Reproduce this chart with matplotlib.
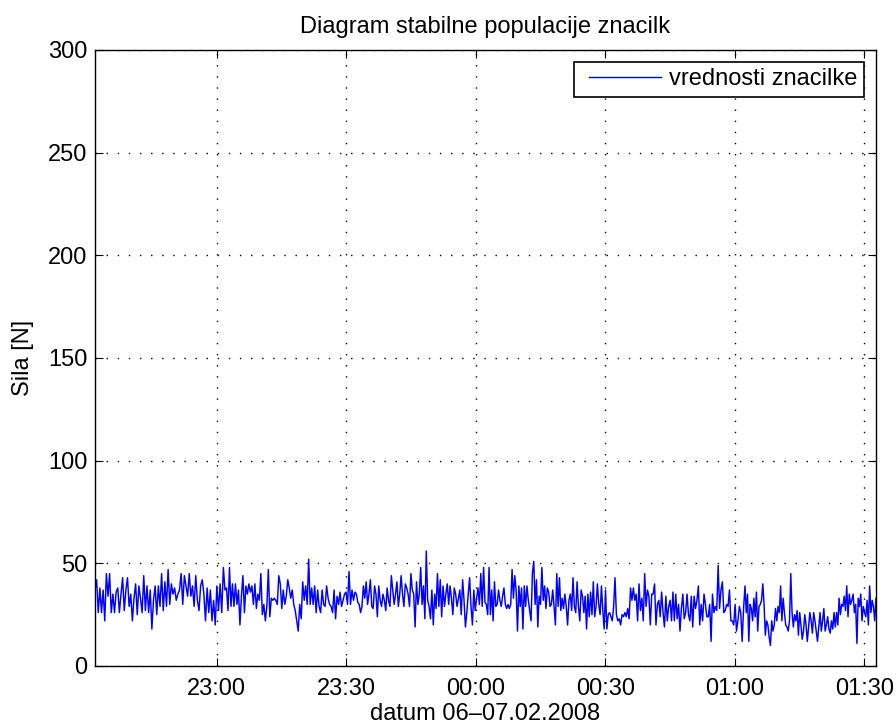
import numpy as np
import matplotlib
matplotlib.use("Agg")
import matplotlib.pyplot as plt
import matplotlib.dates as mdates
from matplotlib.lines import Line2D
from matplotlib.legend_handler import HandlerLine2D
from datetime import datetime, timedelta

plt.rcParams['font.family'] = ['Liberation Sans', 'DejaVu Sans']

title = "Diagram stabilne populacije znacilk"
xlabel = "datum 06\u201307.02.2008"
ylabel = "Sila [N]"
legend_label = "vrednosti znacilke"

seg1 = [37, 42, 26, 38, 26, 37, 22, 45, 34, 45, 26, 35, 26, 36, 38, 26, 35, 43, 27, 37,
        43, 29, 35, 22, 33, 40, 25, 39, 33, 26, 44, 27, 39, 26, 37, 18, 32, 39, 25, 39,
        29, 45, 27, 41, 29, 47, 30, 40, 35, 38, 32, 35, 37, 45, 30, 44, 39, 34, 45, 34,
        39, 29, 44, 32, 27, 39, 42, 35, 22, 38, 26, 37, 22, 32, 20, 39, 27, 40, 26, 48]
seg2 = [37, 38, 27, 48, 29, 40, 29, 40, 30, 37, 20, 34, 44, 26, 39, 35, 40, 36, 39, 30,
        40, 28, 35, 32, 45, 25, 30, 22, 29, 47, 24, 33, 32, 33, 32, 30, 44, 40, 28, 37,
        30, 34, 42, 38, 33, 37, 30, 27, 22, 17, 30, 23, 41, 32, 39, 30, 52, 30, 38, 30,
        39, 26, 37, 29, 26, 37, 30, 29, 39, 33, 30, 29, 26, 37, 23, 34, 30, 36, 29, 32,
        35, 36, 30, 46, 30, 37, 32]
seg3 = [36, 35, 31, 30, 26, 29, 39, 33, 41, 30, 35, 42, 29, 28, 39, 35, 24, 39, 32, 29,
        35, 32, 27, 38, 32, 29, 44, 37, 30, 35, 41, 29, 35, 44, 35, 29, 40, 38, 35, 29,
        45, 37, 35, 19, 41, 30, 35, 48, 30, 39, 23, 56, 32, 29, 23, 37, 20, 35, 28, 45,
        29, 42, 24, 39, 29, 35, 40, 30, 39, 33, 25, 38, 35, 29, 33, 37, 25, 42, 32, 19,
        26, 35, 43, 29, 20, 37, 27, 33, 38, 30, 45, 29, 48]
seg4 = [31, 30, 25, 48, 25, 37, 22, 41, 29, 30, 37, 32, 29, 34, 38, 30, 28, 30, 28, 30,
        47, 33, 44, 37, 17, 39, 29, 38, 18, 39, 29, 39, 32, 27, 22, 45, 51, 30, 42, 19,
        34, 30, 48, 32, 39, 28, 38, 36, 29, 30, 37, 29, 20, 45, 29, 43, 27, 33, 28, 35,
        29, 20, 32, 35, 27, 43, 29, 26, 41, 29, 22, 37, 34, 26, 34, 18, 35, 24, 36, 25,
        41, 24, 29, 40, 30, 25, 39, 27, 18, 37, 18, 25, 26, 24, 22, 29]
seg5 = [43, 25, 22, 23, 20, 25, 24, 26, 24, 28, 23, 38, 32, 38, 32, 35, 22, 40, 27, 33,
        22, 45, 29, 37, 34, 20, 35, 35, 40, 20, 30, 32, 24, 36, 26, 19, 34, 22, 29, 32,
        22, 36, 22, 35, 23, 30, 17, 28, 35, 23, 26, 35, 25, 22, 34, 19, 34, 28, 32, 39,
        20, 30, 22, 35, 30, 24, 24, 30, 12, 35, 26, 29, 27, 49, 28, 37, 41, 26, 27, 30,
        29, 37, 22, 22, 20, 30, 17, 22, 29, 26, 12, 28]
seg6 = [39, 26, 35, 12, 30, 28, 22, 33, 24, 36, 17, 29, 30, 32, 40, 30, 15, 22, 20, 14,
        10, 22, 17, 20, 28, 22, 29, 26, 39, 22, 33, 26, 20, 19, 17, 22, 45, 26, 19, 25,
        22, 27, 15, 26, 20, 13, 17, 25, 20, 12, 19, 26, 22, 16, 26, 22, 17, 12, 19, 26,
        17, 22, 28, 17, 20, 24, 18, 16, 22, 18, 26, 19, 26, 20, 33, 25, 30, 29, 34, 27,
        39, 24, 35, 30, 32, 35, 26, 30, 11, 33, 29, 35, 22, 29, 26, 24, 32, 20, 39, 26,
        32, 29, 22, 33]
segments = [seg1, seg2, seg3, seg4, seg5, seg6]

# time at which each transcribed segment begins, and the end of the record
seg_starts = [datetime(2008, 2, 6, 22, 31, 49), datetime(2008, 2, 6, 23, 1, 56),
              datetime(2008, 2, 6, 23, 32, 3), datetime(2008, 2, 7, 0, 2, 10),
              datetime(2008, 2, 7, 0, 32, 17), datetime(2008, 2, 7, 1, 2, 24)]
t_end = datetime(2008, 2, 7, 1, 32, 45)

times = []
force = []
bounds = seg_starts + [t_end]
for k, seg in enumerate(segments):
    a, b = bounds[k], bounds[k + 1]
    last = (k == len(segments) - 1)
    m = len(seg)
    step = (b - a) / ((m - 1) if last else m)
    times += [a + i * step for i in range(m)]
    force += seg

yticks = [0, 50, 100, 150, 200, 250, 300]
xtick_times = [datetime(2008, 2, 6, 23, 0), datetime(2008, 2, 6, 23, 30),
               datetime(2008, 2, 7, 0, 0), datetime(2008, 2, 7, 0, 30),
               datetime(2008, 2, 7, 1, 0), datetime(2008, 2, 7, 1, 30)]

fig = plt.figure(figsize=(8.96, 7.26), dpi=100)
ax = fig.add_axes([95/896, 1-666/726, (876-95)/896, (666-50)/726])
ax.plot(times, force, color='#0000ff', linewidth=1.05, label=legend_label)
ax.set_xlim(seg_starts[0], t_end)
ax.set_ylim(0, 300)
ax.set_yticks(yticks)
ax.set_xticks(xtick_times)
ax.xaxis.set_major_formatter(mdates.DateFormatter('%H:%M'))
ax.grid(True, color='black', linestyle=(0, (1, 7)), linewidth=1.0)
ax.tick_params(direction='in', top=True, right=True, labelsize=17, length=5.5, width=0.8)
ax.tick_params(axis='x', pad=8.5)
ax.tick_params(axis='y', pad=5.5)
for s in ax.spines.values():
    s.set_linewidth(1.0)
ax.set_title(title, fontsize=17, pad=12)
ax.set_xlabel(xlabel, fontsize=17, labelpad=2)
ax.set_ylabel(ylabel, fontsize=17, labelpad=10)
leg = ax.legend(loc='upper right', fontsize=17, fancybox=False, framealpha=1,
                edgecolor='black', handlelength=3.76, handletextpad=0.0,
                borderaxespad=0.5, borderpad=0.28, numpoints=2,
                handler_map={Line2D: HandlerLine2D(marker_pad=0.36, numpoints=2)})
leg.get_frame().set_linewidth(1.2)
fig.savefig('out.png', dpi=100)
